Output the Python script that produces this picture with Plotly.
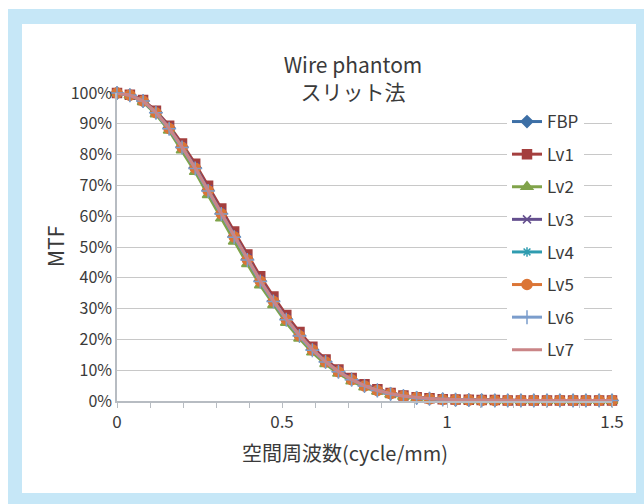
import plotly.graph_objects as go

# Spatial frequency samples (cycle/mm)
freq = [0.000, 0.039, 0.079, 0.118, 0.158, 0.197, 0.237, 0.276, 0.316, 0.355,
        0.395, 0.434, 0.474, 0.513, 0.553, 0.592, 0.632, 0.671, 0.711, 0.750,
        0.789, 0.829, 0.868, 0.908, 0.947, 0.987, 1.026, 1.066, 1.105, 1.145,
        1.184, 1.224, 1.263, 1.303, 1.342, 1.382, 1.421, 1.461, 1.500]

# MTF (%) per reconstruction
mtf_fbp = [100, 99.3, 97.4, 93.7, 88.6, 82.5, 75.7, 68.4, 60.9, 53.4,
           46.0, 39.0, 32.5, 26.6, 21.3, 16.7, 12.8, 9.6, 7.0, 5.0,
           3.5, 2.4, 1.6, 1.1, 0.8, 0.6, 0.4, 0.3, 0.3, 0.2,
           0.2, 0.2, 0.2, 0.2, 0.2, 0.2, 0.2, 0.2, 0.2]
mtf_lv1 = [100, 99.4, 97.7, 94.2, 89.4, 83.6, 77.0, 69.9, 62.5, 55.0,
           47.6, 40.5, 33.9, 27.9, 22.4, 17.6, 13.5, 10.2, 7.5, 5.4,
           3.8, 2.6, 1.8, 1.2, 0.9, 0.6, 0.5, 0.4, 0.3, 0.3,
           0.2, 0.2, 0.2, 0.2, 0.2, 0.2, 0.2, 0.2, 0.2]
mtf_lv2 = [100, 99.2, 97.1, 93.1, 87.8, 81.4, 74.4, 66.9, 59.3, 51.8,
           44.5, 37.6, 31.2, 25.4, 20.3, 15.8, 12.0, 8.9, 6.4, 4.5,
           3.1, 2.1, 1.4, 0.9, 0.6, 0.4, 0.3, 0.2, 0.2, 0.1,
           0.1, 0.1, 0.1, 0.1, 0.1, 0.1, 0.1, 0.1, 0.1]
mtf_lv3 = [100, 99.3, 97.5, 93.9, 88.9, 82.8, 76.1, 68.8, 61.3, 53.8,
           46.4, 39.4, 32.9, 26.9, 21.6, 17.0, 13.0, 9.8, 7.2, 5.1,
           3.6, 2.5, 1.7, 1.1, 0.8, 0.6, 0.4, 0.3, 0.3, 0.2,
           0.2, 0.2, 0.2, 0.2, 0.2, 0.2, 0.2, 0.2, 0.2]
mtf_lv4 = [100, 99.3, 97.3, 93.5, 88.3, 82.2, 75.4, 68.1, 60.6, 53.1,
           45.7, 38.7, 32.2, 26.3, 21.1, 16.5, 12.6, 9.4, 6.9, 4.9,
           3.4, 2.3, 1.5, 1.0, 0.7, 0.5, 0.4, 0.3, 0.2, 0.2,
           0.2, 0.2, 0.2, 0.2, 0.2, 0.2, 0.2, 0.2, 0.2]
mtf_lv5 = [100, 99.3, 97.4, 93.6, 88.5, 82.4, 75.6, 68.3, 60.8, 53.3,
           45.9, 38.9, 32.4, 26.5, 21.2, 16.6, 12.7, 9.5, 6.9, 4.9,
           3.4, 2.4, 1.6, 1.1, 0.7, 0.5, 0.4, 0.3, 0.2, 0.2,
           0.2, 0.2, 0.2, 0.2, 0.2, 0.2, 0.2, 0.2, 0.2]
mtf_lv6 = [100, 99.3, 97.4, 93.6, 88.4, 82.3, 75.5, 68.2, 60.7, 53.2,
           45.8, 38.8, 32.3, 26.4, 21.1, 16.5, 12.7, 9.5, 6.9, 4.9,
           3.4, 2.3, 1.6, 1.0, 0.7, 0.5, 0.4, 0.3, 0.2, 0.2,
           0.2, 0.2, 0.2, 0.2, 0.2, 0.2, 0.2, 0.2, 0.2]
mtf_lv7 = [100, 99.3, 97.4, 93.7, 88.6, 82.5, 75.7, 68.5, 61.0, 53.5,
           46.1, 39.1, 32.6, 26.7, 21.4, 16.8, 12.8, 9.6, 7.0, 5.0,
           3.5, 2.4, 1.6, 1.1, 0.8, 0.6, 0.4, 0.3, 0.3, 0.2,
           0.2, 0.2, 0.2, 0.2, 0.2, 0.2, 0.2, 0.2, 0.2]

names = ["FBP", "Lv1", "Lv2", "Lv3", "Lv4", "Lv5", "Lv6", "Lv7"]
series = [mtf_fbp, mtf_lv1, mtf_lv2, mtf_lv3, mtf_lv4, mtf_lv5, mtf_lv6, mtf_lv7]
colors = ["#3D6FA6", "#A43F3E", "#80A34A", "#644F8E", "#2F9CB0",
          "#DB7536", "#7B9DCC", "#CA8587"]
symbols = ["diamond", "square", "triangle-up", "x-thin-open", "asterisk-open",
           "circle", "cross-thin-open", None]
msizes = [9, 9, 10, 8, 8, 10, 10, 0]

FONT = "Noto Sans CJK JP, Noto Sans, sans-serif"
TXT = "#3a3a3a"

W, H = 644, 504
L, R, T, B = 117, 612, 93, 401  # plot area in pixels


def px(x):
    return (x - L) / (R - L)


def py(y):
    return (B - y) / (B - T)


fig = go.Figure()
for i, (nm, ys) in enumerate(zip(names, series)):
    marker = dict(color=colors[i], size=msizes[i])
    if symbols[i] is None:
        mode = "lines"
    else:
        mode = "lines+markers"
        marker["symbol"] = symbols[i]
        marker["line"] = dict(color=colors[i], width=1.5)
    fig.add_trace(go.Scatter(
        x=freq, y=ys, name=nm, mode=mode, legendgroup=nm,
        line=dict(color=colors[i], width=3),
        marker=marker, cliponaxis=False,
    ))

# Light blue frame around the white card
fig.add_shape(type="rect", xref="paper", yref="paper",
              x0=px(8), x1=px(644), y0=py(504), y1=py(9),
              fillcolor="#C6E7F7", line_width=0, layer="below")
fig.add_shape(type="rect", xref="paper", yref="paper",
              x0=px(22), x1=px(636), y0=py(493), y1=py(24),
              fillcolor="#FFFFFF", line_width=0, layer="below")

# Title with white background breaking the top gridline
fig.add_annotation(
    text="Wire phantom<br>スリット法", xref="paper", yref="paper",
    x=px(353), y=py(77), xanchor="center", yanchor="middle",
    showarrow=False, align="center", bgcolor="#FFFFFF", width=170,
    font=dict(family=FONT, size=21, color=TXT),
)
# Axis titles
fig.add_annotation(
    text="MTF", xref="paper", yref="paper", x=px(55), y=py(247),
    xanchor="center", yanchor="middle", textangle=-90, showarrow=False,
    font=dict(family=FONT, size=21, color=TXT),
)
fig.add_annotation(
    text="空間周波数(cycle/mm)", xref="paper", yref="paper",
    x=px(345), y=py(452), xanchor="center", yanchor="middle",
    showarrow=False, font=dict(family=FONT, size=20, color=TXT),
)

fig.update_layout(
    width=W, height=H,
    margin=dict(l=L, r=W - R, t=T, b=H - B),
    paper_bgcolor="#FFFFFF", plot_bgcolor="rgba(0,0,0,0)",
    font=dict(family=FONT, size=16, color=TXT),
    showlegend=True,
    legend=dict(
        x=px(507), y=py(104), xanchor="left", yanchor="top",
        bgcolor="#FFFFFF", borderwidth=0, traceorder="grouped",
        tracegroupgap=7.5, font=dict(family=FONT, size=17, color=TXT),
    ),
    xaxis=dict(
        range=[0, 1.5], dtick=0.5, tick0=0, showgrid=False, zeroline=False,
        showline=True, linecolor="#B7BCC2", linewidth=1.5,
        ticks="outside", ticklen=5, tickcolor="#B7BCC2",
        minor=dict(dtick=0.1, ticks="outside", ticklen=5,
                   tickcolor="#B7BCC2", showgrid=False),
        tickfont=dict(family=FONT, size=17, color=TXT),
    ),
    yaxis=dict(
        range=[0, 100], dtick=10, ticksuffix="%", showgrid=True,
        gridcolor="#C8C8C8", gridwidth=1.2, zeroline=False,
        showline=True, linecolor="#B7BCC2", linewidth=1.5,
        ticks="", tickfont=dict(family=FONT, size=16, color=TXT),
    ),
)

fig.write_html("out.html")
